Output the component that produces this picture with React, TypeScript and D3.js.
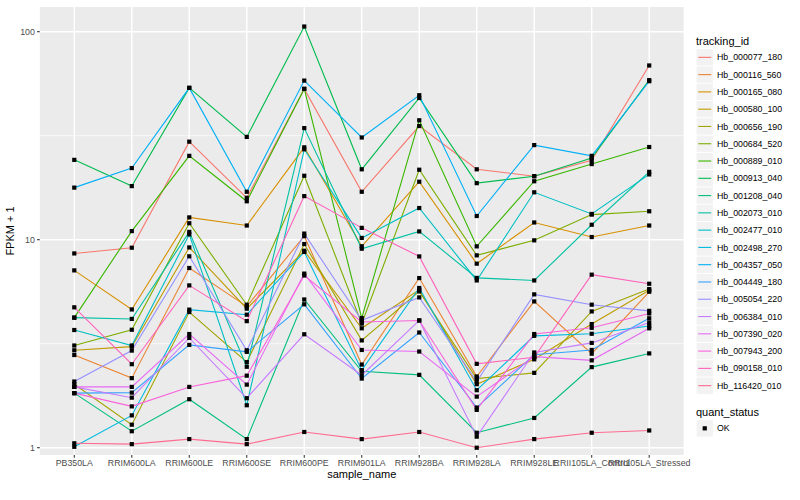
import React, { useEffect } from "react";
import * as d3 from "d3";

// ---- data ----
const categories = [
  "PB350LA", "RRIM600LA", "RRIM600LE", "RRIM600SE", "RRIM600PE", "RRIM901LA",
  "RRIM928BA", "RRIM928LA", "RRIM928LE", "RRII105LA_Control", "RRII105LA_Stressed",
];

const trackingIds = [
  "Hb_000077_180", "Hb_000116_560", "Hb_000165_080", "Hb_000580_100", "Hb_000656_190",
  "Hb_000684_520", "Hb_000889_010", "Hb_000913_040", "Hb_001208_040", "Hb_002073_010",
  "Hb_002477_010", "Hb_002498_270", "Hb_004357_050", "Hb_004449_180", "Hb_005054_220",
  "Hb_006384_010", "Hb_007390_020", "Hb_007943_200", "Hb_090158_010", "Hb_116420_010",
];

const hb000077_180 = [8.59, 9.15, 29.6, 15.9, 53.1, 17.0, 35.2, 21.8, 20.2, 24.1, 68.8];
const hb000116_560 = [2.79, 2.16, 7.31, 4.78, 10.4, 2.51, 6.54, 2.2, 5.05, 2.83, 5.62];
const hb000165_080 = [7.12, 4.62, 12.8, 11.7, 27.8, 9.3, 19.0, 7.67, 12.1, 10.3, 11.7];
const hb000580_100 = [2.94, 3.06, 9.18, 4.66, 8.85, 3.75, 5.75, 2.02, 2.66, 3.93, 5.71];
const hb000656_190 = [2.02, 1.29, 4.49, 2.58, 9.53, 3.28, 5.64, 2.15, 2.29, 4.52, 5.79];
const hb000684_520 = [3.1, 3.69, 12.0, 4.87, 20.3, 3.95, 21.7, 8.41, 9.93, 13.2, 13.7];
const hb000889_010 = [4.22, 11.0, 25.3, 15.3, 53.1, 4.2, 37.5, 9.29, 19.1, 23.1, 27.9];
const hb000913_040 = [24.2, 18.1, 53.7, 31.2, 105.9, 21.8, 48.0, 18.7, 20.2, 24.7, 58.5];
const hb001208_040 = [1.83, 1.2, 1.71, 1.1, 5.16, 2.33, 2.24, 1.18, 1.39, 2.44, 2.84];
const hb002073_010 = [4.22, 4.16, 10.9, 2.45, 34.4, 9.05, 10.96, 6.55, 6.37, 11.8, 21.2];
const hb002477_010 = [3.68, 3.1, 10.6, 1.6, 27.2, 10.2, 14.2, 6.37, 16.9, 13.3, 20.6];
const hb002498_270 = [1.01, 1.43, 4.61, 4.36, 8.73, 2.36, 5.86, 1.89, 3.45, 3.53, 3.85];
const hb004357_050 = [17.8, 22.1, 53.7, 17.0, 58.2, 31.0, 49.5, 13.0, 28.5, 25.3, 57.8];
const hb004449_180 = [1.83, 1.84, 3.12, 2.89, 4.89, 2.15, 3.58, 1.56, 2.8, 2.95, 4.19];
const hb005054_220 = [2.08, 2.93, 8.32, 2.94, 10.7, 4.1, 5.28, 2.08, 5.46, 4.87, 4.55];
const hb006384_010 = [1.96, 1.74, 3.37, 1.73, 3.51, 2.23, 4.09, 1.13, 2.87, 3.19, 4.0];
const hb007390_020 = [1.96, 1.96, 3.52, 2.01, 6.87, 2.95, 2.9, 1.76, 2.74, 2.63, 3.75];
const hb007943_200 = [1.83, 1.58, 1.96, 2.22, 6.73, 4.02, 4.09, 1.52, 3.52, 3.77, 4.42];
const hb090158_010 = [4.73, 2.52, 6.03, 4.06, 16.2, 11.4, 8.31, 2.53, 2.72, 6.79, 6.14];
const hb116420_010 = [1.05, 1.04, 1.1, 1.04, 1.19, 1.1, 1.19, 1.0, 1.1, 1.18, 1.21];

const seriesValues = [
  hb000077_180, hb000116_560, hb000165_080, hb000580_100, hb000656_190,
  hb000684_520, hb000889_010, hb000913_040, hb001208_040, hb002073_010,
  hb002477_010, hb002498_270, hb004357_050, hb004449_180, hb005054_220,
  hb006384_010, hb007390_020, hb007943_200, hb090158_010, hb116420_010,
];

const yTicks = [1, 10, 100];
const quantStatus = ["OK"];

// ---- styles ----
const palette = [
  "#F8766D", "#EA8331", "#D89000", "#C09B00", "#A3A500", "#7CAE00", "#39B600", "#00BB4E",
  "#00BF7D", "#00C1A3", "#00BFC4", "#00BAE0", "#00B0F6", "#35A2FF", "#9590FF", "#C77CFF",
  "#E76BF3", "#FA62DB", "#FF62BC", "#FF6C90",
];

const W = 800;
const H = 500;
const FONT = "'Liberation Sans', Arial, Helvetica, sans-serif";
const panel = { left: 39.8, right: 683.7, top: 7, bottom: 455 };

export default function App() {
  useEffect(() => {
    document.body.style.margin = "0";
  }, []);

  // log scale anchored on the decade gridlines, clipped to the panel
  const y = d3.scaleLog().domain([1, 100]).range([447.7, 31.7]);
  const x = d3.scalePoint<string>().domain(categories).range([panel.left, panel.right]).padding(0.6);

  const line = d3
    .line<number>()
    .x((_, i) => x(categories[i])!)
    .y((v) => y(v));

  const minorTicks = [Math.sqrt(10), Math.sqrt(1000)];
  const pw = panel.right - panel.left;
  const ph = panel.bottom - panel.top;

  const legendX = 696;
  const keyTop = 48.7;
  const keyStep = 17.28;

  return (
    <svg
      width={W}
      height={H}
      style={{ position: "absolute", left: 0, top: 0, display: "block", background: "#fff" }}
      fontFamily={FONT}
    >
      <defs>
        <clipPath id="clip">
          <rect x={panel.left} y={panel.top} width={pw} height={ph} />
        </clipPath>
      </defs>
      <rect x={0} y={0} width={W} height={H} fill="#fff" />
      {/* panel */}
      <rect x={panel.left} y={panel.top} width={pw} height={ph} fill="#EBEBEB" />
      {minorTicks.map((t) => (
        <line key={"mn" + t} x1={panel.left} x2={panel.right} y1={y(t)} y2={y(t)} stroke="#fff" strokeWidth={0.71} />
      ))}
      {yTicks.map((t) => (
        <line key={"mj" + t} x1={panel.left} x2={panel.right} y1={y(t)} y2={y(t)} stroke="#fff" strokeWidth={1.42} />
      ))}
      {categories.map((c) => (
        <line key={"vx" + c} x1={x(c)} x2={x(c)} y1={panel.top} y2={panel.bottom} stroke="#fff" strokeWidth={1.42} />
      ))}

      {/* lines and points */}
      <g clipPath="url(#clip)">
        {seriesValues.map((vals, i) => (
          <path key={trackingIds[i]} d={line(vals)!} fill="none" stroke={palette[i]} strokeWidth={1.1} />
        ))}
        {seriesValues.map((vals, i) =>
          vals.map((v, j) => (
            <rect
              key={trackingIds[i] + "p" + j}
              x={x(categories[j])! - 2.1}
              y={y(v) - 2.1}
              width={4.2}
              height={4.2}
              fill="#000"
            />
          ))
        )}
      </g>

      {/* y axis */}
      {yTicks.map((t) => (
        <g key={"yt" + t}>
          <line x1={panel.left - 2.75} x2={panel.left} y1={y(t)} y2={y(t)} stroke="#333" strokeWidth={1.07} />
          <text x={panel.left - 4.95} y={y(t) + 3.1} fontSize={8.8} fill="#4D4D4D" textAnchor="end">
            {d3.format("d")(t)}
          </text>
        </g>
      ))}
      {/* x axis */}
      {categories.map((c) => (
        <g key={"xt" + c}>
          <line x1={x(c)} x2={x(c)} y1={panel.bottom} y2={panel.bottom + 2.75} stroke="#333" strokeWidth={1.07} />
          <text x={x(c)} y={panel.bottom + 10.8} fontSize={8.8} fill="#4D4D4D" textAnchor="middle">
            {c}
          </text>
        </g>
      ))}
      <text x={(panel.left + panel.right) / 2} y={478} fontSize={11} fill="#000" textAnchor="middle">
        sample_name
      </text>
      <text
        transform={`translate(${13.5},${(panel.top + panel.bottom) / 2}) rotate(-90)`}
        fontSize={11}
        fill="#000"
        textAnchor="middle"
      >
        FPKM + 1
      </text>

      {/* legend: tracking_id */}
      <text x={legendX} y={44.6} fontSize={11} fill="#000">
        tracking_id
      </text>
      {trackingIds.map((id, i) => {
        const top = keyTop + i * keyStep;
        const cy = top + keyStep / 2;
        return (
          <g key={"lg" + id}>
            <rect x={legendX + 0.6} y={top + 0.5} width={16.3} height={16.3} fill="#F2F2F2" />
            <line x1={legendX + 2.3} x2={legendX + 15.2} y1={cy} y2={cy} stroke={palette[i]} strokeWidth={1.1} />
            <text x={legendX + 21} y={cy + 3.1} fontSize={8.8} fill="#000">
              {id}
            </text>
          </g>
        );
      })}

      {/* legend: quant_status */}
      <text x={legendX} y={415.5} fontSize={11} fill="#000">
        quant_status
      </text>
      {quantStatus.map((s, i) => {
        const top = 419.7 + i * keyStep;
        const cy = top + keyStep / 2;
        return (
          <g key={"qs" + s}>
            <rect x={legendX + 0.6} y={top + 0.5} width={16.3} height={16.3} fill="#F2F2F2" />
            <rect x={legendX + 8.75 - 2.1} y={cy - 2.1} width={4.2} height={4.2} fill="#000" />
            <text x={legendX + 21} y={cy + 3.1} fontSize={8.8} fill="#000">
              {s}
            </text>
          </g>
        );
      })}
    </svg>
  );
}
